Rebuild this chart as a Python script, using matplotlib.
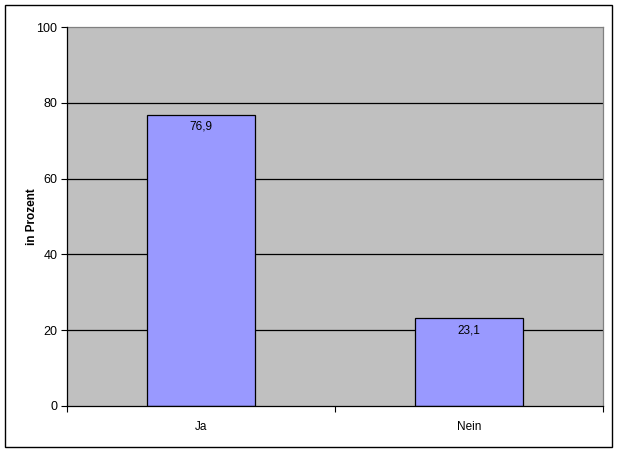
import matplotlib.pyplot as plt
from matplotlib.patches import Rectangle
from matplotlib.ticker import FixedLocator, NullFormatter

plt.rcParams['font.family'] = ['Liberation Sans', 'DejaVu Sans']

# data
categories = ['Ja', 'Nein']
values = [76.9, 23.1]
value_labels = ['76,9', '23,1']
y_ticks = [0, 20, 40, 60, 80, 100]

fig = plt.figure(figsize=(6.19, 4.53), dpi=100)
ax = fig.add_axes([67 / 619, 1 - 406 / 453, 536 / 619, 379 / 453])

ax.set_facecolor('#C0C0C0')
x = list(range(len(categories)))
bars = ax.bar(x, values, width=0.403, color='#9999FF', edgecolor='black', linewidth=0.9, zorder=3)

for b, lab in zip(bars, value_labels):
    ax.annotate(lab, (b.get_x() + b.get_width() / 2, b.get_height()),
                xytext=(0, -4), textcoords='offset points', ha='center', va='top',
                fontsize=8.5, zorder=4)

ax.set_xlim(-0.5, len(categories) - 0.5)
ax.set_ylim(0, 100)
ax.set_yticks(y_ticks)
ax.set_yticklabels([str(t) for t in y_ticks], fontsize=9)

# category labels centred, tick marks between categories
ax.set_xticks(x)
ax.set_xticklabels(categories, fontsize=8.5)
ax.tick_params(axis='x', which='major', length=0, pad=11)
ax.xaxis.set_minor_locator(FixedLocator([-0.5, 0.5, 1.5]))
ax.xaxis.set_minor_formatter(NullFormatter())
ax.tick_params(axis='x', which='minor', length=4, width=0.8, direction='out')
ax.tick_params(axis='y', length=4, width=0.8, direction='out', pad=3)

for t in y_ticks[1:-1]:
    ax.axhline(t, color='black', linewidth=0.9, zorder=2)

ax.spines['left'].set_color('black')
ax.spines['bottom'].set_color('black')
ax.spines['top'].set_color('#808080')
ax.spines['right'].set_color('#808080')
for s in ax.spines.values():
    s.set_linewidth(0.9)
ax.spines['left'].set_zorder(5)
ax.spines['bottom'].set_zorder(5)

ax.set_ylabel('in Prozent', fontsize=8.5, fontweight='bold')
ax.yaxis.set_label_coords(-0.054, 0.5)

# outer chart border
fig.patches.append(Rectangle((5 / 619, 1 - 447 / 453), 607 / 619, 442 / 453,
                             transform=fig.transFigure, fill=False,
                             edgecolor='black', linewidth=1.0))

fig.savefig('out.png', dpi=100)
